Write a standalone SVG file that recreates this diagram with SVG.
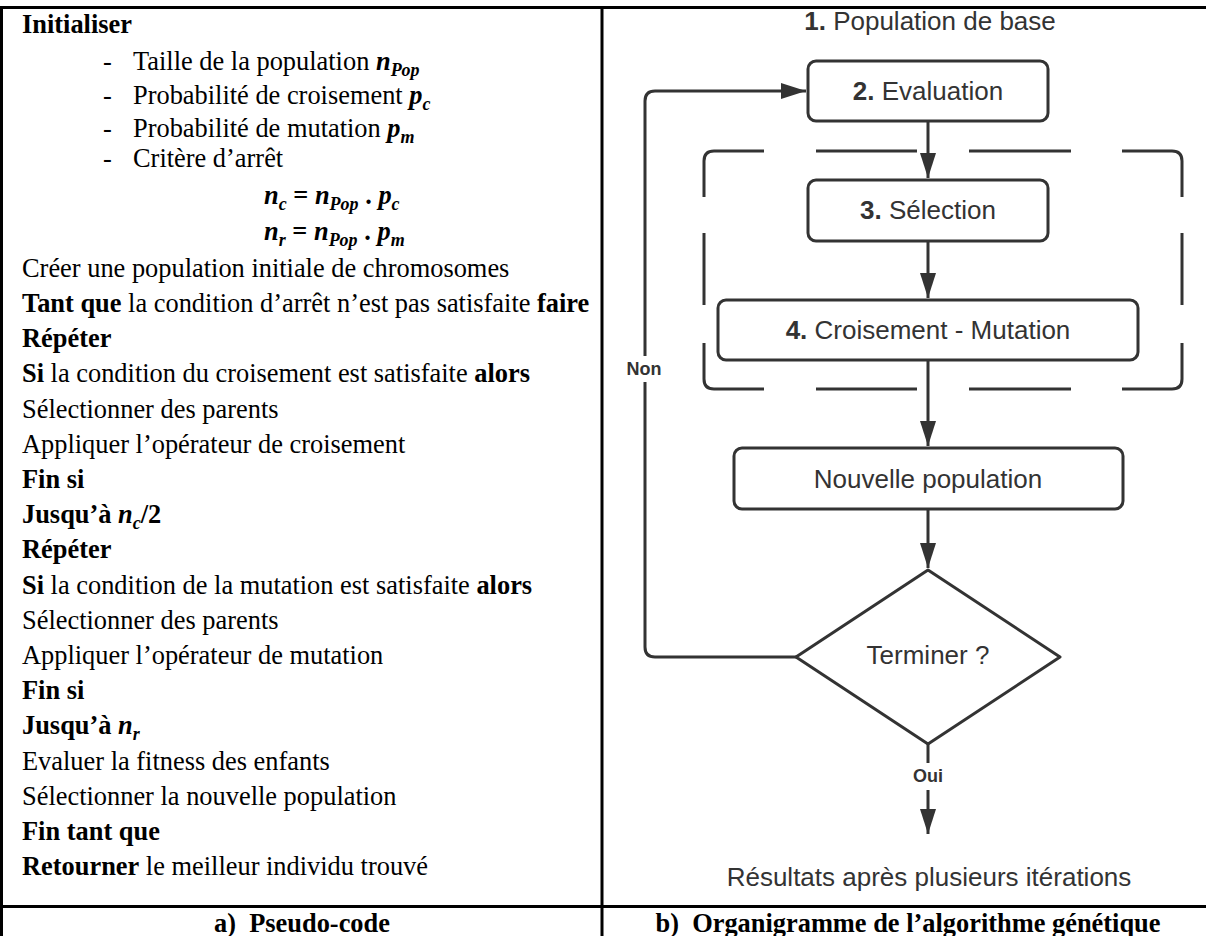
<svg xmlns="http://www.w3.org/2000/svg" width="1206" height="936" viewBox="0 0 1206 936">
<style>
.tbl{stroke:#000;stroke-width:3;fill:none}
.pc{font-family:"Liberation Serif","Times New Roman",serif;font-size:26.4px;fill:#000}
.b{font-weight:bold}
.m{font-weight:bold;font-style:italic}
.sub{font-size:18px}
.cap{font-family:"Liberation Serif","Times New Roman",serif;font-size:26.4px;font-weight:bold;fill:#000;text-anchor:middle;white-space:pre}
.box{fill:#fff;stroke:#333;stroke-width:3}
.fc{font-family:"Liberation Sans",Arial,sans-serif;font-size:26px;fill:#333;text-anchor:middle}
.lbl{font-family:"Liberation Sans",Arial,sans-serif;font-size:18px;font-weight:bold;fill:#333;text-anchor:middle}
.ln{stroke:#333;stroke-width:3;fill:none}
.dash{stroke:#333;stroke-width:3;fill:none;stroke-linecap:butt}
</style>
<defs>
<marker id="ah" markerUnits="userSpaceOnUse" markerWidth="26" markerHeight="18" refX="25" refY="8" orient="auto">
<path d="M0,0 L25,8 L0,16 z" fill="#333"/>
</marker>
</defs>
<rect width="1206" height="936" fill="#fff"/>
<g id="table">
<line class="tbl" x1="0" y1="7.5" x2="1206" y2="7.5"/>
<line class="tbl" x1="1.5" y1="6" x2="1.5" y2="936"/>
<line class="tbl" x1="602" y1="6" x2="602" y2="936"/>
<line class="tbl" x1="0" y1="906.5" x2="1206" y2="906.5"/>
</g>
<g id="pseudocode" class="pc">
<text x="22" y="33" class="b">Initialiser</text>
<text x="103" y="70">-</text>
<text x="133" y="70">Taille de la population <tspan class="m">n</tspan><tspan class="m sub" dy="6">Pop</tspan></text>
<text x="103" y="104">-</text>
<text x="133" y="104">Probabilité de croisement <tspan class="m">p</tspan><tspan class="m sub" dy="6">c</tspan></text>
<text x="103" y="137">-</text>
<text x="133" y="137">Probabilité de mutation <tspan class="m">p</tspan><tspan class="m sub" dy="6">m</tspan></text>
<text x="103" y="167">-</text>
<text x="133" y="167">Critère d’arrêt</text>
<text x="264" y="204"><tspan class="m">n</tspan><tspan class="m sub" dy="6">c</tspan><tspan dy="-6" class="b"> = </tspan><tspan class="m">n</tspan><tspan class="m sub" dy="6">Pop</tspan><tspan dy="-6" class="b"> . </tspan><tspan class="m">p</tspan><tspan class="m sub" dy="6">c</tspan></text>
<text x="264" y="240"><tspan class="m">n</tspan><tspan class="m sub" dy="6">r</tspan><tspan dy="-6" class="b"> = </tspan><tspan class="m">n</tspan><tspan class="m sub" dy="6">Pop</tspan><tspan dy="-6" class="b"> . </tspan><tspan class="m">p</tspan><tspan class="m sub" dy="6">m</tspan></text>
<text x="22" y="277">Créer une population initiale de chromosomes</text>
<text x="22" y="312"><tspan class="b">Tant que</tspan> la condition d’arrêt n’est pas satisfaite <tspan class="b">faire</tspan></text>
<text x="22" y="347" class="b">Répéter</text>
<text x="22" y="382"><tspan class="b">Si</tspan> la condition du croisement est satisfaite <tspan class="b">alors</tspan></text>
<text x="22" y="418">Sélectionner des parents</text>
<text x="22" y="453">Appliquer l’opérateur de croisement</text>
<text x="22" y="488" class="b">Fin si</text>
<text x="22" y="523"><tspan class="b">Jusqu’à </tspan><tspan class="m">n</tspan><tspan class="m sub" dy="6">c</tspan><tspan class="b" dy="-6">/2</tspan></text>
<text x="22" y="558" class="b">Répéter</text>
<text x="22" y="594"><tspan class="b">Si</tspan> la condition de la mutation est satisfaite <tspan class="b">alors</tspan></text>
<text x="22" y="629">Sélectionner des parents</text>
<text x="22" y="664">Appliquer l’opérateur de mutation</text>
<text x="22" y="699" class="b">Fin si</text>
<text x="22" y="734"><tspan class="b">Jusqu’à </tspan><tspan class="m">n</tspan><tspan class="m sub" dy="6">r</tspan></text>
<text x="22" y="770">Evaluer la fitness des enfants</text>
<text x="22" y="805">Sélectionner la nouvelle population</text>
<text x="22" y="840" class="b">Fin tant que</text>
<text x="22" y="875"><tspan class="b">Retourner</tspan> le meilleur individu trouvé</text>
</g>
<g id="captions">
<text x="302" y="932" class="cap">a)  Pseudo-code</text>
<text x="908" y="932" class="cap">b)  Organigramme de l’algorithme génétique</text>
</g>
<g id="group-boundary">
<path class="dash" d="M704,197 V161 Q704,151 714,151 H764"/>
<path class="dash" d="M816,151 H917 M969,151 H1071"/>
<path class="dash" d="M1122,151 H1172 Q1182,151 1182,161 V197"/>
<path class="dash" d="M1182,233 V305"/>
<path class="dash" d="M1182,343 V379 Q1182,389 1172,389 H1122"/>
<path class="dash" d="M1071,389 H969 M917,389 H816"/>
<path class="dash" d="M764,389 H714 Q704,389 704,379 V343"/>
<path class="dash" d="M704,305 V233"/>
</g>
<g id="connectors">
<line class="ln" x1="928" y1="121" x2="928" y2="178" marker-end="url(#ah)"/>
<line class="ln" x1="928" y1="241" x2="928" y2="298" marker-end="url(#ah)"/>
<line class="ln" x1="928" y1="360" x2="928" y2="446" marker-end="url(#ah)"/>
<line class="ln" x1="928" y1="509" x2="928" y2="568" marker-end="url(#ah)"/>
<line class="ln" x1="928" y1="744" x2="928" y2="763"/>
<line class="ln" x1="928" y1="790" x2="928" y2="834" marker-end="url(#ah)"/>
<path class="ln" d="M797,657 H655 Q645,657 645,647 V101 Q645,91 655,91 H806" marker-end="url(#ah)"/>
<rect x="626" y="356" width="38" height="26" fill="#fff"/>
<text x="644" y="375" class="lbl">Non</text>
<text x="928" y="782" class="lbl">Oui</text>
</g>
<g id="n1">
<text x="930" y="30" class="fc"><tspan font-weight="bold">1.</tspan> Population de base</text>
</g>
<g id="n2">
<rect class="box" x="808" y="61" width="240" height="60" rx="8"/>
<text x="928" y="100" class="fc"><tspan font-weight="bold">2.</tspan> Evaluation</text>
</g>
<g id="n3">
<rect class="box" x="808" y="180" width="240" height="61" rx="8"/>
<text x="928" y="219" class="fc"><tspan font-weight="bold">3.</tspan> Sélection</text>
</g>
<g id="n4">
<rect class="box" x="718" y="300" width="420" height="60" rx="8"/>
<text x="928" y="339" class="fc"><tspan font-weight="bold">4.</tspan> Croisement - Mutation</text>
</g>
<g id="n5">
<rect class="box" x="734" y="448" width="389" height="61" rx="8"/>
<text x="928" y="488" class="fc">Nouvelle population</text>
</g>
<g id="n6">
<polygon class="box" points="928,570 1060,657 928,744 796,657" stroke-linejoin="round"/>
<text x="928" y="664" class="fc">Terminer ?</text>
</g>
<g id="n7">
<text x="929" y="886" class="fc">Résultats après plusieurs itérations</text>
</g>
</svg>
